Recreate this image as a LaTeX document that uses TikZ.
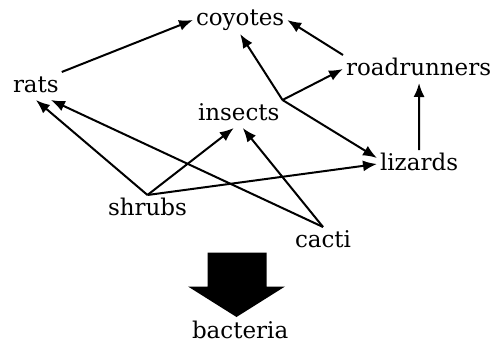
\documentclass[tikz,border=0pt]{standalone}
\usepackage{fontspec}
\setmainfont{DejaVu Serif}
\usetikzlibrary{arrows.meta}

\begin{document}
\begin{tikzpicture}[x=1pt,y=-1pt,line width=2pt,
                    >={Latex[length=14pt,width=11pt]},
                    species/.style={anchor=base west,inner sep=2pt,text height=17pt,text depth=5pt,
                                    font=\fontsize{23}{27}\selectfont}]

          \useasboundingbox (0,0) rectangle (492,345);

          \foreach \place/\name in {{(193,26)/coyotes}, {(10,92)/rats}, {(343,75)/roadrunners}, {(195,120)/insects}, {(377,170)/lizards}, {(105,215)/shrubs}, {(292,247)/cacti}, {(189,338)/bacteria}}
            \node[species] (\name) at \place {\name};

          % Food web edges
          \foreach \source/\target/\tx/\ty in {rats.north east/coyotes.west/0/0, insects.north east/coyotes.south/0/0, roadrunners.north west/coyotes.east/0/0, insects.north east/roadrunners.west/0/0, insects.north east/lizards.west/0/6, lizards.north/roadrunners.south/0.5/0, shrubs.north/rats.south/0/0, shrubs.north/insects.south/-5/0, shrubs.north/lizards.west/0/0, cacti.north/rats.south/15/0, cacti.north/insects.south/4/0}
            \draw[->] (\source) -- ([xshift=\tx pt,yshift=\ty pt]\target);

          % Decomposition
          \fill (207.5,252.5) -- (266.5,252.5) -- (266.5,286.5) -- (285,286.5) -- (236.5,317) -- (188,286.5) -- (207.5,286.5) -- cycle;
        \end{tikzpicture}
\end{document}
